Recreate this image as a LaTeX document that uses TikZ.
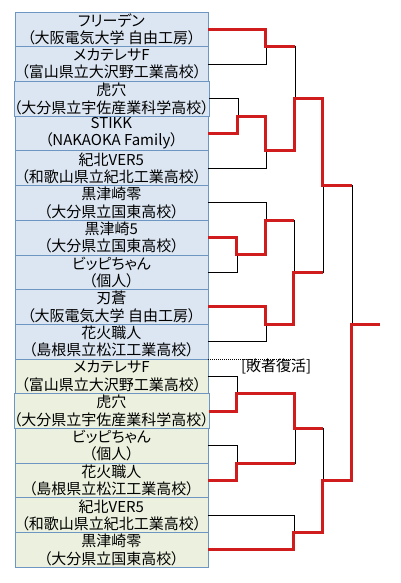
\documentclass[tikz,border=0pt]{standalone}
\usepackage{fontspec}
\setmainfont{Noto Sans CJK JP}[RawFeature=+palt]
\usepackage{xcolor}
\usepackage{tikz}
\usetikzlibrary{positioning}

\definecolor{entryblue}{RGB}{220,230,242}
\definecolor{entrygreen}{RGB}{235,241,222}
\definecolor{entryborder}{RGB}{110,150,195}
\definecolor{winred}{RGB}{208,28,28}

\begin{document}
\begin{tikzpicture}[x=1pt, y=-1pt,
    entry/.style={rectangle, draw=entryborder, line width=0.8pt, fill=entryblue, minimum width=193pt, minimum height=34.7pt, inner sep=0pt, outer sep=0pt, align=center, font=\fontsize{15}{17.35}\selectfont},
    revival/.style={entry, fill=entrygreen},
    loser/.style={draw=black, line width=0.8pt},
    winner/.style={draw=winred, line width=3pt},
    revivalline/.style={draw=black, line width=0.6pt, dash pattern=on 1pt off 1pt},
    node distance=0pt
]
\useasboundingbox (0,0) rectangle (400,583);

\node[entry] (t0) at (111.4,29.35) {フリーデン\\（大阪電気大学 自由工房）};
\node[entry, below=of t0] (t1) {メカテレサF\\（富山県立大沢野工業高校）};
\node[entry, below=of t1] (t2) {虎穴\\（大分県立宇佐産業科学高校）};
\node[entry, below=of t2] (t3) {STIKK\\（NAKAOKA Family）};
\node[entry, below=of t3] (t4) {紀北VER5\\（和歌山県立紀北工業高校）};
\node[entry, below=of t4] (t5) {黒津崎零\\（大分県立国東高校）};
\node[entry, below=of t5] (t6) {黒津崎5\\（大分県立国東高校）};
\node[entry, below=of t6] (t7) {ビッピちゃん\\（個人）};
\node[entry, below=of t7] (t8) {刃蒼\\（大阪電気大学 自由工房）};
\node[entry, below=of t8] (t9) {花火職人\\（島根県立松江工業高校）};
\node[revival, below=of t9] (t10) {メカテレサF\\（富山県立大沢野工業高校）};
\node[revival, below=of t10] (t11) {虎穴\\（大分県立宇佐産業科学高校）};
\node[revival, below=of t11] (t12) {ビッピちゃん\\（個人）};
\node[revival, below=of t12] (t13) {花火職人\\（島根県立松江工業高校）};
\node[revival, below=of t13] (t14) {紀北VER5\\（和歌山県立紀北工業高校）};
\node[revival, below=of t14] (t15) {黒津崎零\\（大分県立国東高校）};

\coordinate (mA) at ([xshift=58pt]t0.south east);
\coordinate (mB) at ([xshift=29pt]t2.south east);
\coordinate (mC) at ([xshift=58pt]t3.south east);
\coordinate (mD) at ([xshift=86pt]t2.east);
\coordinate (mE) at ([xshift=29pt]t6.south east);
\coordinate (mF) at ([xshift=58pt]t5.south east);
\coordinate (mG) at ([xshift=58pt]t8.south east);
\coordinate (mH) at ([xshift=86pt]t7.east);
\coordinate (mI) at ([xshift=115pt]t4.south east);
\coordinate (mJ) at ([xshift=29pt]t10.south east);
\coordinate (mK) at ([xshift=29pt]t12.south east);
\coordinate (mL) at ([xshift=86pt]t11.south east);
\coordinate (mM) at ([xshift=86pt]t14.south east);
\coordinate (mN) at ([xshift=115pt]t13.east);
\coordinate (mZ) at ([xshift=144pt]t8.south east);
\coordinate (champ) at ([xshift=172pt]t8.south east);

\draw[loser] (t0.east) -| (mA) (t1.east) -| (mA) (t2.east) -| (mB) (t3.east) -| (mB);
\draw[loser] (mB) -| (mC) (t4.east) -| (mC) (mA) -| (mD) (mC) -| (mD);
\draw[loser] (t6.east) -| (mE) (t7.east) -| (mE) (t5.east) -| (mF) (mE) -| (mF);
\draw[loser] (t8.east) -| (mG) (t9.east) -| (mG) (mF) -| (mH) (mG) -| (mH);
\draw[loser] (mD) -| (mI) (mH) -| (mI);
\draw[loser] (t10.east) -| (mJ) (t11.east) -| (mJ) (t12.east) -| (mK) (t13.east) -| (mK);
\draw[loser] (mJ) -| (mL) (mK) -| (mL) (t14.east) -| (mM) (t15.east) -| (mM);
\draw[loser] (mL) -| (mN) (mM) -| (mN) (mI) -| (mZ) (mN) -| (mZ);

\draw[winner] (t0.east) -| (mA) -- (mA -| mD);
\draw[winner] (t3.east) -| (mB) -| (mC) -| (mD) -| (mI) -- (mI -| mZ);
\draw[winner] (t6.east) -| (mE) -| (mF) -- (mF -| mH);
\draw[winner] (t8.east) -| (mG) -| (mH) -- (mH -| mI);
\draw[winner] (t11.east) -| (mJ) -| (mL) -- (mL -| mN);
\draw[winner] (t13.east) -| (mK) -- (mK -| mL);
\draw[winner] (t15.east) -| (mM) -| (mN) -| (mZ) -- (champ);

\draw[revivalline] (t9.south east) -- ([xshift=87pt]t9.south east);
\node[below right=0pt and 33pt of t9.south east, inner sep=0pt, font=\fontsize{15}{17.35}\selectfont] (revivallabel) {[敗者復活]};

\end{tikzpicture}
\end{document}
